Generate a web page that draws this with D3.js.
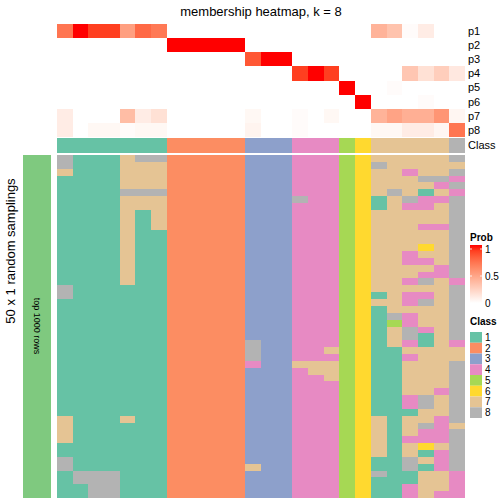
<!DOCTYPE html>
<html><head><meta charset="utf-8">
<script src="https://cdn.jsdelivr.net/npm/d3@7"></script>
<style>body{margin:0;background:#fff}svg{display:block;font-family:"Liberation Sans",Arial,sans-serif}rect.cell{shape-rendering:crispEdges}</style>
</head><body><svg id="c" width="504" height="504"></svg>
<script>
const probLabels = ["p1","p2","p3","p4","p5","p6","p7","p8"];
const colClass = [1,1,1,1,1,1,1,2,2,2,2,2,3,3,3,4,4,4,5,6,7,7,7,7,7,8];
const p1 = [0.7,1,0.9,0.9,0.5,0.75,0.68,0,0,0,0,0,0,0,0,0,0,0,0,0,0.4,0.32,0.02,0.1,0,0];
const p2 = [0,0,0,0,0,0,0,1,1,1,1,1,0,0,0,0,0,0,0,0,0,0,0,0,0,0];
const p3 = [0,0,0,0,0,0,0,0,0,0,0,0,0.82,1,1,0,0,0,0,0,0,0,0,0,0,0];
const p4 = [0,0,0,0,0,0,0,0,0,0,0,0,0,0,0,0.9,1,0.9,0,0,0,0,0.3,0.16,0.26,0.12];
const p5 = [0,0,0,0,0,0,0,0,0,0,0,0,0,0,0,0,0,0,1,0,0,0.02,0,0,0,0];
const p6 = [0,0,0,0,0,0,0,0,0,0,0,0,0,0,0,0,0,0,0,1,0,0,0,0.02,0,0];
const p7 = [0.1,0,0,0,0.35,0.1,0.16,0,0,0,0,0,0.04,0,0,0.02,0,0.04,0,0,0.4,0.48,0.42,0.42,0.55,0.05];
const p8 = [0.1,0,0.04,0.04,0.02,0.04,0.04,0,0,0,0,0,0.06,0,0,0.02,0,0,0,0,0.04,0.04,0.1,0.1,0.05,0.7];
const probRows = [p1,p2,p3,p4,p5,p6,p7,p8];
// 50 random samplings, class per column (groups: c0-6 | c7-11 | c12-14 | c15-17 | c18 | c19 | c20-24 | c25)
const samplings = [
"8111788 22222 333 444 5 6 77777 8",
"8111777 22222 333 444 5 6 87777 7",
"7111777 22222 333 444 5 6 77477 8",
"1111777 22222 333 444 5 6 77788 4",
"1111777 22222 333 444 5 6 77774 8",
"1111888 22222 333 444 5 6 78717 4",
"1111777 22222 333 844 5 6 17844 8",
"1111777 22222 333 444 5 6 17447 8",
"1111717 22222 333 444 5 6 77777 8",
"1111717 22222 333 444 5 6 77777 8",
"1111717 22222 333 444 5 6 77744 8",
"1111711 22222 333 444 5 6 77777 8",
"1111711 22222 333 444 5 6 77777 8",
"1111711 22222 333 444 5 6 77767 8",
"1111711 22222 333 444 5 6 77477 8",
"1111711 22222 333 444 5 6 77447 8",
"1111711 22222 333 444 5 6 77774 8",
"1111711 22222 333 444 5 6 77744 8",
"1111711 22222 333 444 5 6 77487 4",
"8111111 22222 333 444 5 6 77777 8",
"8111111 22222 333 444 5 6 17447 8",
"1111111 22222 333 444 5 6 77487 8",
"1111111 22222 333 444 5 6 17777 8",
"1111111 22222 333 444 5 6 18477 8",
"1111111 22222 333 444 5 6 15477 8",
"1111111 22222 333 444 5 6 17847 8",
"1111111 22222 333 444 5 6 17817 8",
"1111111 22222 833 444 5 6 17417 4",
"1111111 22222 833 447 5 6 11777 7",
"1111111 22222 833 444 5 6 11477 7",
"1111111 22222 433 777 5 6 11777 8",
"1111111 22222 333 477 5 6 11777 8",
"1111111 22222 333 447 5 6 11777 8",
"1111111 22222 333 444 5 6 11777 8",
"1111111 22222 333 444 5 6 11774 8",
"1111111 22222 333 444 5 6 11487 8",
"1111111 22222 333 444 5 6 11487 8",
"1111111 22222 333 444 5 6 11177 8",
"7111711 22222 333 444 5 6 71774 8",
"7111111 22222 333 444 5 6 71784 7",
"7111111 22222 333 444 5 6 71744 8",
"7111111 22222 333 444 5 6 71444 8",
"1111111 22222 333 444 5 6 71767 8",
"1111111 22222 333 444 5 6 71714 8",
"8111111 22222 333 444 5 6 11874 8",
"8111111 22222 733 444 5 6 11814 8",
"1888111 22222 333 444 5 6 81177 4",
"1888111 22222 333 444 5 6 11177 4",
"1188111 22222 333 444 5 6 11477 4",
"1188111 22222 333 444 5 6 11474 4"
];
const classNames = ["1","2","3","4","5","6","7","8"];
const classColors = ["#66C2A5","#FC8D62","#8DA0CB","#E78AC3","#A6D854","#FFD92F","#E5C494","#B3B3B3"];
const probTicks = [1,0.5,0];

const svg = d3.select("#c");
const nCol = colClass.length;
const x = d3.scaleBand().domain(d3.range(nCol)).range([57,465]);
const yP = d3.scaleBand().domain(probLabels).range([24,137]);
const yS = d3.scaleBand().domain(d3.range(samplings.length)).range([155,498]);
const probColor = d3.scaleLinear().domain([0,1]).range(["#ffffff","#ff0000"]).interpolate(d3.interpolateLab);
const clsColor = d3.scaleOrdinal().domain(classNames).range(classColors);

// title
svg.append("text").attr("x",261).attr("y",16).attr("text-anchor","middle").attr("font-size",13).text("membership heatmap, k = 8");

// helper: snap band to whole pixels so neighbours meet exactly
const snapX = j => Math.round(x(j));
const snapW = j => Math.round(x(j)+x.bandwidth()) - Math.round(x(j));

// probability rows
probRows.forEach((row,i)=>{
  const y0 = Math.round(yP(probLabels[i])), y1 = Math.round(yP(probLabels[i])+yP.bandwidth());
  svg.append("g").selectAll("rect").data(row).join("rect").attr("class","cell")
    .attr("x",(d,j)=>snapX(j)).attr("y",y0)
    .attr("width",(d,j)=>snapW(j)).attr("height",y1-y0)
    .attr("fill",d=>probColor(d));
  svg.append("text").attr("x",468).attr("y",yP(probLabels[i])+yP.bandwidth()/2).attr("dy","0.35em")
    .attr("font-size",11).text(probLabels[i]);
});
// class annotation
svg.append("g").selectAll("rect").data(colClass).join("rect").attr("class","cell")
  .attr("x",(d,j)=>snapX(j)).attr("y",138).attr("width",(d,j)=>snapW(j)).attr("height",15)
  .attr("fill",d=>clsColor(String(d)));
svg.append("text").attr("x",468).attr("y",145.5).attr("dy","0.35em").attr("font-size",11).text("Class");

// sampling matrix
const grid = samplings.map(s=>s.replace(/ /g,"").split(""));
grid.forEach((row,i)=>{
  const y0 = Math.round(yS(i)), y1 = Math.round(yS(i)+yS.bandwidth());
  svg.append("g").selectAll("rect").data(row).join("rect").attr("class","cell")
    .attr("x",(d,j)=>snapX(j)).attr("y",y0)
    .attr("width",(d,j)=>snapW(j)).attr("height",y1-y0)
    .attr("fill",d=>clsColor(d));
});

// left annotation
svg.append("rect").attr("class","cell").attr("x",23).attr("y",155).attr("width",28).attr("height",343).attr("fill","#7FC97F");
svg.append("text").attr("transform","translate(34,326) rotate(90)").attr("text-anchor","middle")
  .attr("font-size",9).text("top 1000 rows");
svg.append("text").attr("transform","translate(15,251) rotate(-90)").attr("text-anchor","middle")
  .attr("font-size",13).text("50 x 1 random samplings");

// Prob legend
const defs = svg.append("defs");
const grad = defs.append("linearGradient").attr("id","pg").attr("x1",0).attr("y1",1).attr("x2",0).attr("y2",0);
d3.range(0,1.01,0.1).forEach(t=>grad.append("stop").attr("offset",t).attr("stop-color",probColor(t)));
svg.append("text").attr("x",470).attr("y",241).attr("font-size",10).attr("font-weight","bold").text("Prob");
const yL = d3.scaleLinear().domain([0,1]).range([303,249]);
svg.append("rect").attr("x",470).attr("y",245).attr("width",12).attr("height",58).attr("fill","url(#pg)");
probTicks.forEach(t=>{
  if(t>0) svg.append("line").attr("x1",470).attr("x2",472).attr("y1",yL(t)).attr("y2",yL(t)).attr("stroke","#fff").attr("stroke-width",0.8);
  if(t>0) svg.append("line").attr("x1",480).attr("x2",482).attr("y1",yL(t)).attr("y2",yL(t)).attr("stroke","#fff").attr("stroke-width",0.8);
  svg.append("text").attr("x",485).attr("y",yL(t)).attr("dy","0.35em").attr("font-size",10).text(t);
});

// Class legend
svg.append("text").attr("x",470).attr("y",325).attr("font-size",10).attr("font-weight","bold").text("Class");
const yC = d3.scaleBand().domain(classNames).range([332,418]);
classNames.forEach(c=>{
  svg.append("rect").attr("x",470).attr("y",yC(c)).attr("width",12).attr("height",yC.bandwidth()).attr("fill",clsColor(c));
  svg.append("text").attr("x",485).attr("y",yC(c)+yC.bandwidth()/2).attr("dy","0.35em").attr("font-size",10).text(c);
});
</script></body></html>
